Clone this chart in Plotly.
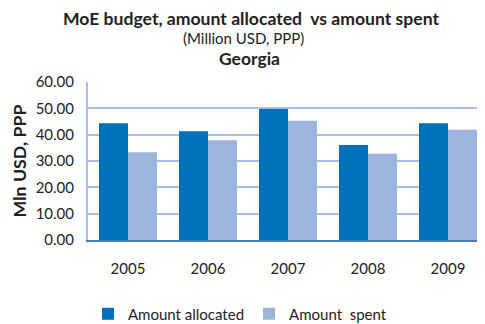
import plotly.graph_objects as go

years = ["2005", "2006", "2007", "2008", "2009"]
allocated = [44.3, 41.3, 49.7, 36.1, 44.3]
spent = [33.3, 37.9, 45.3, 32.8, 41.9]
y_ticks = [0, 10, 20, 30, 40, 50, 60]
y_tick_labels = ["0.00", "10.00", "20.00", "30.00", "40.00", "50.00", "60.00"]

FONT = "Lato"
OFF = 8  # page body margin
W, H = 485 - OFF, 324 - OFF
plot_left, plot_top, plot_bottom = 88 - OFF, 82 - OFF, 240 - OFF
plot_w, plot_h = W - plot_left, plot_bottom - plot_top


def ann(text, sx, sy, size):
    px, py = sx - OFF, sy - OFF
    return dict(text=text, showarrow=False, font=dict(size=size, family=FONT, color="#222222"),
                xref="paper", yref="paper",
                x=(px - plot_left) / plot_w, y=(plot_bottom - py) / plot_h,
                xanchor="center", yanchor="middle")


fig = go.Figure()
fig.add_trace(go.Bar(x=years, y=allocated, name="Amount allocated",
                     marker=dict(color="#0070BA", line=dict(width=0))))
fig.add_trace(go.Bar(x=years, y=spent, name="Amount  spent",
                     marker=dict(color="#9DB4DC", line=dict(width=0))))

fig.update_layout(
    width=W, height=H,
    margin=dict(l=plot_left, r=0, t=plot_top, b=H - plot_bottom, autoexpand=False),
    paper_bgcolor="white", plot_bgcolor="white",
    font=dict(family=FONT, size=15, color="#222222"),
    barmode="group", bargap=0.275, bargroupgap=0,
    showlegend=True,
    legend=dict(orientation="h", x=(240 - OFF - plot_left) / plot_w, xanchor="center", xref="paper",
                y=(plot_bottom - (314 - OFF)) / plot_h, yanchor="middle", font=dict(size=15),
                tracegroupgap=0, traceorder="normal"),
    annotations=[
        ann("<b>MoE budget, amount allocated  vs amount spent</b>", 251, 18, 17.6),
        ann("(Million USD, PPP)", 243, 38, 15),
        ann("<b>Georgia</b>", 249, 59, 17.5),
    ],
)

fig.update_xaxes(range=[-0.5, 4.4625], showgrid=False, automargin=False,
                 showline=True, linecolor="#4A7EBB", linewidth=2,
                 ticks="", ticklabelstandoff=14, tickfont=dict(size=15))
fig.update_yaxes(range=[0, 60], tickvals=y_ticks, ticktext=y_tick_labels, automargin=False,
                 showgrid=True, gridcolor="#A9C0E4", gridwidth=2,
                 showline=True, linecolor="#A9C0E4", linewidth=2,
                 zeroline=False, ticks="", ticklabelstandoff=9,
                 tickfont=dict(size=15),
                 title=dict(text="<b>Mln USD, PPP</b>", font=dict(size=17.8), standoff=8))

fig.write_html("out.html")
